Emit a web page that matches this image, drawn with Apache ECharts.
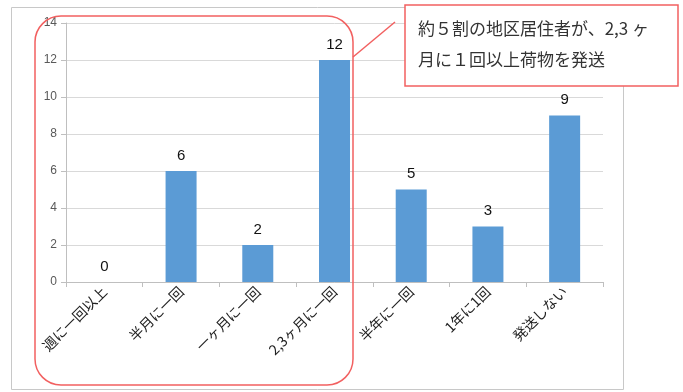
<!DOCTYPE html>
<html>
<head>
<meta charset="utf-8">
<script src="https://cdn.jsdelivr.net/npm/echarts@6/dist/echarts.min.js"></script>
<style>
html,body{margin:0;padding:0;background:#fff;}
#chart{width:683px;height:392px;}
</style>
</head>
<body>
<div id="chart"></div>
<script>
// 荷物の発送頻度（回答者数）
const categories = ['週に一回以上', '半月に一回', '一ヶ月に一回', '2,3ヶ月に一回', '半年に一回', '1年に1回', '発送しない'];
const counts = [0, 6, 2, 12, 5, 3, 9];
const yTicks = { min: 0, max: 14, interval: 2 };
const calloutLines = ['約５割の地区居住者が、2,3 ヶ', '月に１回以上荷物を発送'];

const chart = echarts.init(document.getElementById('chart'));
const red = '#f26060';

chart.setOption({
  animation: false,
  backgroundColor: '#fff',
  grid: { left: 66, right: 80, top: 23, bottom: 110 },
  xAxis: {
    type: 'category',
    data: categories,
    axisLine: { lineStyle: { color: '#bfbfbf', width: 1 } },
    axisTick: { show: true, alignWithLabel: false, length: 5, lineStyle: { color: '#bfbfbf' } },
    axisLabel: {
      rotate: 45,
      interval: 0,
      color: '#222',
      fontSize: 14,
      fontFamily: 'Noto Sans CJK JP',
      margin: 7
    }
  },
  yAxis: {
    type: 'value',
    min: yTicks.min,
    max: yTicks.max,
    interval: yTicks.interval,
    axisLine: { show: true, lineStyle: { color: '#bfbfbf' } },
    axisTick: { show: true, length: 5, lineStyle: { color: '#bfbfbf' } },
    splitLine: { lineStyle: { color: '#d9d9d9' } },
    axisLabel: { color: '#595959', fontSize: 12, fontFamily: 'Liberation Sans', margin: 9 }
  },
  series: [{
    type: 'bar',
    data: counts,
    barWidth: 31,
    itemStyle: { color: '#5b9bd5' },
    label: {
      show: true,
      position: 'top',
      distance: 8,
      color: '#111',
      fontSize: 15,
      fontFamily: 'Liberation Sans'
    }
  }],
  graphic: [
    {
      type: 'rect', z: 100, silent: true,
      shape: { x: 11.5, y: 7.5, width: 612, height: 382 },
      style: { fill: 'none', stroke: '#c8c8c8', lineWidth: 1 }
    },
    {
      type: 'rect', z: 110, silent: true,
      shape: { x: 35, y: 16, width: 318, height: 369, r: 26 },
      style: { fill: 'none', stroke: red, lineWidth: 1.5 }
    },
    {
      type: 'line', z: 110, silent: true,
      shape: { x1: 395, y1: 22, x2: 353, y2: 57 },
      style: { stroke: red, lineWidth: 1.5 }
    },
    {
      type: 'rect', z: 110, silent: true,
      shape: { x: 405, y: 5, width: 273, height: 81 },
      style: { fill: '#fff', stroke: red, lineWidth: 1.5 }
    },
    {
      type: 'text', z: 120, silent: true,
      x: 418, y: 13,
      style: {
        text: calloutLines.join('\n'),
        fill: '#333',
        font: '17px "Noto Sans CJK JP"',
        lineHeight: 31
      }
    }
  ]
});
</script>
</body>
</html>
